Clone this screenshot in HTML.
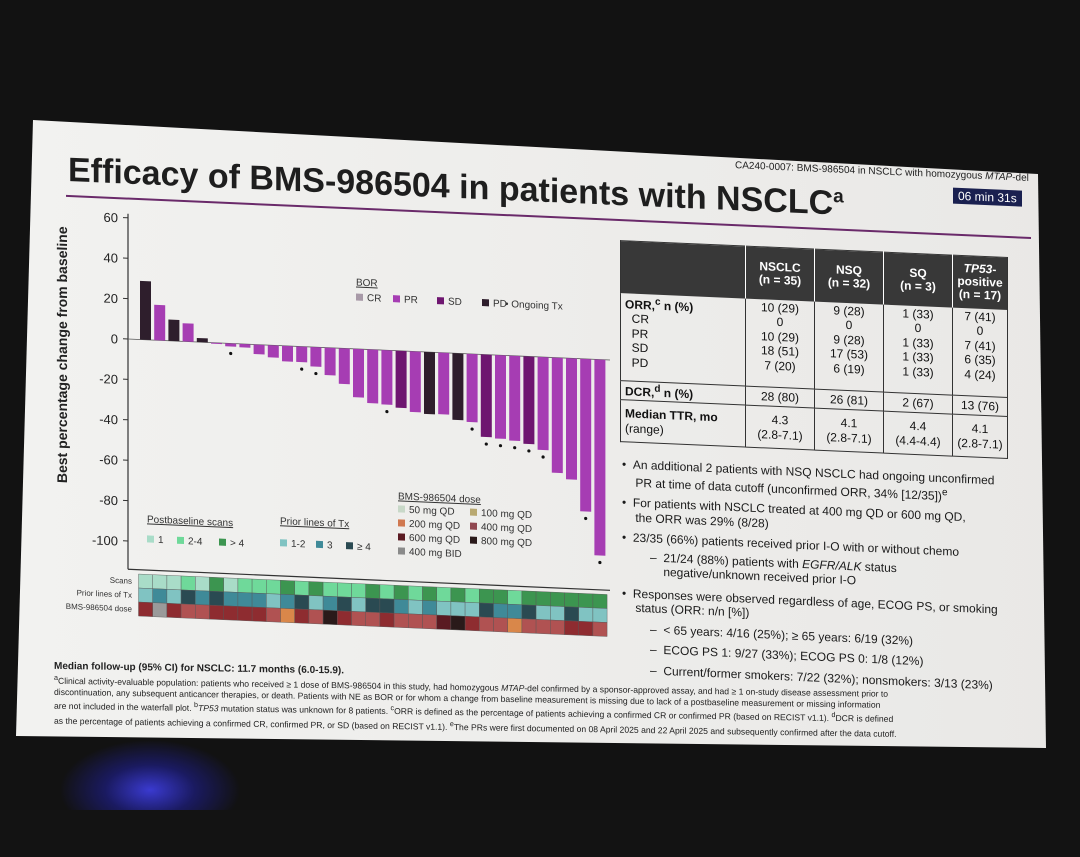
<!DOCTYPE html>
<html><head><meta charset="utf-8"><style>
body{margin:0;width:1080px;height:810px;overflow:hidden;background:#131313;font-family:"Liberation Sans",sans-serif;}
#scene{position:absolute;left:0;top:0;width:1080px;height:810px;background:radial-gradient(ellipse 90px 50px at 150px 790px,#3a3ad0 0%,#1a1a60 50%,rgba(0,0,0,0) 100%),#121212;}
#slide{position:absolute;left:0;top:0;width:1080px;height:810px;background:linear-gradient(90deg,#f2f2f0,#e9e8e6);clip-path:polygon(33px 120px,1038px 174px,1046px 748px,16px 736px);}
#content{position:absolute;left:0;top:0;width:1080px;height:810px;transform:skewY(2.5deg);transform-origin:0 0;}
#foot{position:absolute;left:0;top:0;width:1080px;height:810px;transform:skewY(0.9deg);transform-origin:0 0;}
.t{position:absolute;white-space:nowrap;color:#222;}
table{border-collapse:collapse;}
</style></head><body>
<div id="scene"></div>
<div id="slide">
<div id="content">
<div class="t" style="left:68px;top:148px;font-size:34px;font-weight:bold;color:#1e1e1e">Efficacy of BMS-986504 in patients with NSCLC<sup style="font-size:19px">a</sup></div>
<div class="t" style="left:735px;top:128px;font-size:10px">CA240-0007: BMS-986504 in NSCLC with homozygous <i>MTAP</i>-del</div>
<div class="t" style="left:953px;top:146px;font-size:12px;background:#1a2050;color:#fff;padding:1px 5px">06 min 31s</div>
<div style="position:absolute;left:66px;top:192px;width:965px;height:2px;background:#6a2a6a"></div>

<svg id="chart" width="1080" height="810" style="position:absolute;left:0;top:0"></svg>

<div style="position:absolute;left:620px;top:213px;width:388px;font-size:12px;color:#111">
<table style="width:388px;border:1px solid #333">
<tr style="background:#383838;color:#fff;height:52px;font-weight:bold;text-align:center;font-size:12px;line-height:13px"><td style="width:122px"></td><td style="width:66px;border-left:1px solid #fff">NSCLC<br>(n = 35)</td><td style="width:66px;border-left:1px solid #fff">NSQ<br>(n = 32)</td><td style="width:66px;border-left:1px solid #fff">SQ<br>(n = 3)</td><td style="border-left:1px solid #fff"><i>TP53</i>-<br>positive<br>(n = 17)</td></tr>
<tr style="height:88px;text-align:center;line-height:14.5px;vertical-align:top;border-bottom:1px solid #333"><td style="text-align:left;padding-left:4px"><b>ORR,<sup>c</sup> n (%)</b><br>&nbsp;&nbsp;CR<br>&nbsp;&nbsp;PR<br>&nbsp;&nbsp;SD<br>&nbsp;&nbsp;PD</td><td style="border-left:1px solid #333">10 (29)<br>0<br>10 (29)<br>18 (51)<br>7 (20)</td><td style="border-left:1px solid #333">9 (28)<br>0<br>9 (28)<br>17 (53)<br>6 (19)</td><td style="border-left:1px solid #333">1 (33)<br>0<br>1 (33)<br>1 (33)<br>1 (33)</td><td style="border-left:1px solid #333">7 (41)<br>0<br>7 (41)<br>6 (35)<br>4 (24)</td></tr>
<tr style="height:18px;text-align:center;border-bottom:1px solid #333"><td style="text-align:left;padding-left:4px"><b>DCR,<sup>d</sup> n (%)</b></td><td style="border-left:1px solid #333">28 (80)</td><td style="border-left:1px solid #333">26 (81)</td><td style="border-left:1px solid #333">2 (67)</td><td style="border-left:1px solid #333">13 (76)</td></tr>
<tr style="height:42px;text-align:center;line-height:15px"><td style="text-align:left;padding-left:4px"><b>Median TTR, mo</b><br>(range)</td><td style="border-left:1px solid #333">4.3<br>(2.8-7.1)</td><td style="border-left:1px solid #333">4.1<br>(2.8-7.1)</td><td style="border-left:1px solid #333">4.4<br>(4.4-4.4)</td><td style="border-left:1px solid #333">4.1<br>(2.8-7.1)</td></tr>
</table></div>

<div style="position:absolute;left:622px;top:430px;font-size:12px;line-height:14.5px;color:#1a1a1a;white-space:nowrap">
<div>•&nbsp;&nbsp;An additional 2 patients with NSQ NSCLC had ongoing unconfirmed<br>&nbsp;&nbsp;&nbsp;&nbsp;PR at time of data cutoff (unconfirmed ORR, 34% [12/35])<sup>e</sup></div>
<div style="margin-top:6px">•&nbsp;&nbsp;For patients with NSCLC treated at 400 mg QD or 600 mg QD,<br>&nbsp;&nbsp;&nbsp;&nbsp;the ORR was 29% (8/28)</div>
<div style="margin-top:6px">•&nbsp;&nbsp;23/35 (66%) patients received prior I-O with or without chemo</div>
<div style="margin-top:4px;padding-left:28px">–&nbsp;&nbsp;21/24 (88%) patients with <i>EGFR/ALK</i> status<br>&nbsp;&nbsp;&nbsp;&nbsp;negative/unknown received prior I-O</div>
<div style="margin-top:8px">•&nbsp;&nbsp;Responses were observed regardless of age, ECOG PS, or smoking<br>&nbsp;&nbsp;&nbsp;&nbsp;status (ORR: n/n [%])</div>
<div style="margin-top:6px;padding-left:28px">–&nbsp;&nbsp;&lt; 65 years: 4/16 (25%); ≥ 65 years: 6/19 (32%)</div>
<div style="margin-top:6px;padding-left:28px">–&nbsp;&nbsp;ECOG PS 1: 9/27 (33%); ECOG PS 0: 1/8 (12%)</div>
<div style="margin-top:6px;padding-left:28px">–&nbsp;&nbsp;Current/former smokers: 7/22 (32%); nonsmokers: 3/13 (23%)</div>
</div>
</div>
<div id="foot">
<div style="position:absolute;left:54px;top:660px;font-size:8.6px;line-height:11.5px;color:#222;white-space:nowrap">
<div style="font-size:10px;font-weight:bold">Median follow-up (95% CI) for NSCLC: 11.7 months (6.0-15.9).</div>
<div><sup>a</sup>Clinical activity-evaluable population: patients who received ≥ 1 dose of BMS-986504 in this study, had homozygous <i>MTAP</i>-del confirmed by a sponsor-approved assay, and had ≥ 1 on-study disease assessment prior to</div>
<div>discontinuation, any subsequent anticancer therapies, or death. Patients with NE as BOR or for whom a change from baseline measurement is missing due to lack of a postbaseline measurement or missing information</div>
<div>are not included in the waterfall plot. <sup>b</sup><i>TP53</i> mutation status was unknown for 8 patients. <sup>c</sup>ORR is defined as the percentage of patients achieving a confirmed CR or confirmed PR (based on RECIST v1.1). <sup>d</sup>DCR is defined</div>
<div>as the percentage of patients achieving a confirmed CR, confirmed PR, or SD (based on RECIST v1.1). <sup>e</sup>The PRs were first documented on 08 April 2025 and 22 April 2025 and subsequently confirmed after the data cutoff.</div>
</div>
</div>
</div>

<script>
const values=[29,17.5,10.5,9,2,-0.5,-1.5,-1.7,-4.7,-6,-7.7,-7.7,-9.6,-13.6,-17.6,-23.9,-26.5,-26.9,-28.2,-30,-30.7,-30.5,-33,-33.7,-40.8,-41.3,-42,-43.3,-46,-57,-60,-75.5,-97];
const bor=["PD","PR","PD","PR","PD","PR","PR","PR","PR","PR","PR","PR","PR","PR","PR","PR","PR","PR","SD","PR","PD","PR","PD","PR","SD","PR","PR","SD","PR","PR","PR","PR","PR"];
const ongoing=[0,0,0,0,0,0,1,0,0,0,0,1,1,0,0,0,0,1,0,0,0,0,0,1,1,1,1,1,1,0,0,1,1];
const scans=[0,0,0,1,0,2,0,1,1,1,2,1,2,1,1,1,2,1,2,1,2,1,2,1,2,2,1,2,2,2,2,2,2];
const priorLines=[0,1,0,2,1,2,1,1,1,0,1,2,0,1,2,0,2,2,1,0,1,0,0,0,2,1,1,2,0,0,2,0,0];
const dose=[3,6,3,1,1,3,3,3,3,1,0,3,1,5,3,1,1,3,1,1,1,4,5,3,1,1,0,1,1,1,3,3,1];
const yTicks=[60,40,20,0,-20,-40,-60,-80,-100];
const borColors={CR:"#a89aa8",PR:"#a63db3",SD:"#6e1670",PD:"#2e1e2c"};
const scanColors=["#a9dcc8","#6fd99a","#3c9550"];
const priorColors=["#80c3c2","#3f8a98","#2a4a52"];
const doseColors=["#d9874a","#b05252","#7a8a70","#8e2c30","#5a1a22","#2a1a1a","#9a9a9a"];
const svg=document.getElementById('chart');const NS="http://www.w3.org/2000/svg";
function mk(t,a,p){const e=document.createElementNS(NS,t);for(const k in a)e.setAttribute(k,a[k]);(p||svg).appendChild(e);return e;}
const X0=140,slot=14.2,bw=11;
function y(v){return 333.4-v*2.02;}
function x(i){return X0+i*slot;}
const ax=mk('line',{x1:128,y1:y(62),x2:128,y2:y(-114),stroke:'#333','stroke-width':1.2});

const bl=mk('line',{x1:128,y1:y(-114),x2:610,y2:y(-114),stroke:'#333','stroke-width':1.2});

const zl=mk('line',{x1:128,y1:y(0),x2:610,y2:y(0),stroke:'#555','stroke-width':0.8});

yTicks.forEach(v=>{const l=mk('line',{x1:123,y1:y(v),x2:128,y2:y(v),stroke:'#333'});

const t=mk('text',{x:118,y:y(v)+5,'text-anchor':'end','font-size':13,fill:'#222'});t.textContent=v;
});
const yl=mk('text',{x:0,y:0,transform:'translate(67,352) rotate(-90)','text-anchor':'middle','font-size':14,'font-weight':'bold',fill:'#222'});yl.textContent='Best percentage change from baseline';

values.forEach((v,i)=>{const top=Math.min(y(v),y(0)),h=Math.max(Math.abs(y(v)-y(0)),1);
const r=mk('rect',{x:x(i),y:top,width:bw,height:h,fill:borColors[bor[i]]});

if(ongoing[i]){const c=mk('circle',{cx:x(i)+bw/2,cy:(v<0?y(v)+7:y(v)-4),r:1.6,fill:'#111'});
}
[[scans,scanColors,568],[priorLines,priorColors,582],[dose,doseColors,596]].forEach(([arr,cols,yy])=>{
const s=mk('rect',{x:x(i)-1.5,y:yy,width:slot,height:14,fill:cols[arr[i]],stroke:'#555','stroke-width':0.4});
});});
[['Scans',578],['Prior lines of Tx',592],['BMS-986504 dose',606]].forEach(([s,yy])=>{const t=mk('text',{x:132,y:yy,'text-anchor':'end','font-size':8,fill:'#333'});t.textContent=s;
});
function txt(s,xx,yy,fs,extra){const t=mk('text',Object.assign({x:xx,y:yy,'font-size':fs,fill:'#333'},extra||{}));t.textContent=s;return t;}
let t;
t=txt('BOR',356,270,10,{'text-decoration':'underline'});
[['CR',356],['PR',393],['SD',437],['PD',482]].forEach(([k,xx])=>{const r=mk('rect',{x:xx,y:278,width:7,height:7,fill:borColors[k]});

const tt=txt(k,xx+11,285,10);});
t=txt('• Ongoing Tx',505,285,10);
t=txt('Postbaseline scans',147,516,10,{'text-decoration':'underline'});
[['1',147],['2-4',177],['> 4',219]].forEach(([k,xx],j)=>{const r=mk('rect',{x:xx,y:529,width:7,height:7,fill:scanColors[j]});
const tt=txt(k,xx+11,536,10);});
t=txt('Prior lines of Tx',280,512,10,{'text-decoration':'underline'});
[['1-2',280],['3',316],['≥ 4',346]].forEach(([k,xx],j)=>{const r=mk('rect',{x:xx,y:527,width:7,height:7,fill:priorColors[j]});
const tt=txt(k,xx+11,534,10);});
t=txt('BMS-986504 dose',398,482,10,{'text-decoration':'underline'});
[['50 mg QD',398,495,'#c8d8c8'],['100 mg QD',470,495,'#b8a870'],['200 mg QD',398,509,'#d07850'],['400 mg QD',470,509,'#904850'],['600 mg QD',398,523,'#5a1a22'],['800 mg QD',470,523,'#2a1a1a'],['400 mg BID',398,537,'#8a8a8a']].forEach(([k,xx,yy,c])=>{
const r=mk('rect',{x:xx,y:yy-7,width:7,height:7,fill:c});
const tt=txt(k,xx+11,yy,10);});
</script>
</body></html>
